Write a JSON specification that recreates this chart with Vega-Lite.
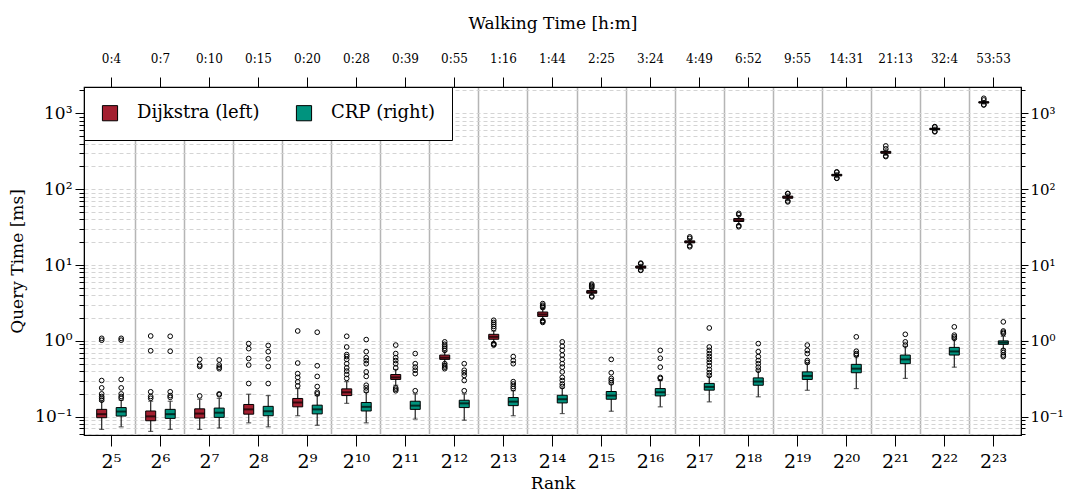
{
  "$schema": "https://vega.github.io/schema/vega-lite/v6.json",
  "width": 937,
  "height": 348,
  "autosize": "none",
  "padding": {"left": 84, "top": 87, "right": 44, "bottom": 62},
  "background": "white",
  "config": {
    "font": "DejaVu Serif",
    "view": {"stroke": "black", "strokeWidth": 1.2},
    "axis": {"domainColor": "black", "tickColor": "black", "labelColor": "black", "titleColor": "black", "titleFontWeight": "normal", "labelFont": "DejaVu Serif", "titleFont": "DejaVu Serif"},
    "legend": {"labelFont": "DejaVu Serif"}
  },
  "datasets": {
    "stats": [
      {"rank": 32, "method": "Dijkstra (left)", "wlo": 0.068, "q1": 0.097, "med": 0.108, "q3": 0.125, "whi": 0.16},
      {"rank": 32, "method": "CRP (right)", "wlo": 0.0735, "q1": 0.102, "med": 0.117, "q3": 0.132, "whi": 0.165},
      {"rank": 64, "method": "Dijkstra (left)", "wlo": 0.064, "q1": 0.0885, "med": 0.101, "q3": 0.119, "whi": 0.16},
      {"rank": 64, "method": "CRP (right)", "wlo": 0.068, "q1": 0.095, "med": 0.108, "q3": 0.125, "whi": 0.16},
      {"rank": 128, "method": "Dijkstra (left)", "wlo": 0.068, "q1": 0.096, "med": 0.11, "q3": 0.127, "whi": 0.17},
      {"rank": 128, "method": "CRP (right)", "wlo": 0.071, "q1": 0.098, "med": 0.113, "q3": 0.13, "whi": 0.175},
      {"rank": 256, "method": "Dijkstra (left)", "wlo": 0.083, "q1": 0.108, "med": 0.125, "q3": 0.145, "whi": 0.198},
      {"rank": 256, "method": "CRP (right)", "wlo": 0.0735, "q1": 0.103, "med": 0.118, "q3": 0.137, "whi": 0.19},
      {"rank": 512, "method": "Dijkstra (left)", "wlo": 0.103, "q1": 0.135, "med": 0.154, "q3": 0.174, "whi": 0.235},
      {"rank": 512, "method": "CRP (right)", "wlo": 0.077, "q1": 0.109, "med": 0.125, "q3": 0.142, "whi": 0.19},
      {"rank": 1024, "method": "Dijkstra (left)", "wlo": 0.15, "q1": 0.19, "med": 0.21, "q3": 0.233, "whi": 0.29},
      {"rank": 1024, "method": "CRP (right)", "wlo": 0.083, "q1": 0.119, "med": 0.135, "q3": 0.154, "whi": 0.21},
      {"rank": 2048, "method": "Dijkstra (left)", "wlo": 0.26, "q1": 0.31, "med": 0.33, "q3": 0.36, "whi": 0.42},
      {"rank": 2048, "method": "CRP (right)", "wlo": 0.093, "q1": 0.125, "med": 0.14, "q3": 0.16, "whi": 0.2},
      {"rank": 4096, "method": "Dijkstra (left)", "wlo": 0.5, "q1": 0.57, "med": 0.6, "q3": 0.65, "whi": 0.73},
      {"rank": 4096, "method": "CRP (right)", "wlo": 0.09, "q1": 0.132, "med": 0.15, "q3": 0.165, "whi": 0.2},
      {"rank": 8192, "method": "Dijkstra (left)", "wlo": 0.95, "q1": 1.05, "med": 1.13, "q3": 1.22, "whi": 1.35},
      {"rank": 8192, "method": "CRP (right)", "wlo": 0.103, "q1": 0.14, "med": 0.158, "q3": 0.179, "whi": 0.22},
      {"rank": 16384, "method": "Dijkstra (left)", "wlo": 1.9, "q1": 2.1, "med": 2.23, "q3": 2.4, "whi": 2.65},
      {"rank": 16384, "method": "CRP (right)", "wlo": 0.11, "q1": 0.152, "med": 0.17, "q3": 0.192, "whi": 0.24},
      {"rank": 32768, "method": "Dijkstra (left)", "wlo": 4.0, "q1": 4.25, "med": 4.4, "q3": 4.6, "whi": 4.9},
      {"rank": 32768, "method": "CRP (right)", "wlo": 0.118, "q1": 0.17, "med": 0.19, "q3": 0.215, "whi": 0.27},
      {"rank": 65536, "method": "Dijkstra (left)", "wlo": 8.7, "q1": 9.1, "med": 9.4, "q3": 9.7, "whi": 10.2},
      {"rank": 65536, "method": "CRP (right)", "wlo": 0.135, "q1": 0.188, "med": 0.21, "q3": 0.235, "whi": 0.3},
      {"rank": 131072, "method": "Dijkstra (left)", "wlo": 18.5, "q1": 19.6, "med": 20.2, "q3": 20.8, "whi": 22},
      {"rank": 131072, "method": "CRP (right)", "wlo": 0.157, "q1": 0.224, "med": 0.247, "q3": 0.275, "whi": 0.34},
      {"rank": 262144, "method": "Dijkstra (left)", "wlo": 34, "q1": 37.5, "med": 39, "q3": 41, "whi": 45},
      {"rank": 262144, "method": "CRP (right)", "wlo": 0.183, "q1": 0.26, "med": 0.291, "q3": 0.325, "whi": 0.4},
      {"rank": 524288, "method": "Dijkstra (left)", "wlo": 71, "q1": 76, "med": 78, "q3": 81, "whi": 86},
      {"rank": 524288, "method": "CRP (right)", "wlo": 0.223, "q1": 0.31, "med": 0.345, "q3": 0.39, "whi": 0.5},
      {"rank": 1048576, "method": "Dijkstra (left)", "wlo": 142, "q1": 150, "med": 153, "q3": 157, "whi": 165},
      {"rank": 1048576, "method": "CRP (right)", "wlo": 0.235, "q1": 0.38, "med": 0.43, "q3": 0.49, "whi": 0.62},
      {"rank": 2097152, "method": "Dijkstra (left)", "wlo": 280, "q1": 298, "med": 305, "q3": 315, "whi": 330},
      {"rank": 2097152, "method": "CRP (right)", "wlo": 0.32, "q1": 0.5, "med": 0.57, "q3": 0.65, "whi": 0.85},
      {"rank": 4194304, "method": "Dijkstra (left)", "wlo": 590, "q1": 610, "med": 620, "q3": 635, "whi": 655},
      {"rank": 4194304, "method": "CRP (right)", "wlo": 0.45, "q1": 0.65, "med": 0.725, "q3": 0.82, "whi": 1.05},
      {"rank": 8388608, "method": "Dijkstra (left)", "wlo": 1330, "q1": 1370, "med": 1397, "q3": 1420, "whi": 1460},
      {"rank": 8388608, "method": "CRP (right)", "wlo": 0.78, "q1": 0.9, "med": 0.95, "q3": 1.0, "whi": 1.15}
    ],
    "outliers": [
      {"rank": 32, "method": "Dijkstra (left)", "v": 0.165}, {"rank": 32, "method": "Dijkstra (left)", "v": 0.175}, {"rank": 32, "method": "Dijkstra (left)", "v": 0.185}, {"rank": 32, "method": "Dijkstra (left)", "v": 0.2}, {"rank": 32, "method": "Dijkstra (left)", "v": 0.24}, {"rank": 32, "method": "Dijkstra (left)", "v": 0.3}, {"rank": 32, "method": "Dijkstra (left)", "v": 1.02}, {"rank": 32, "method": "Dijkstra (left)", "v": 1.08},
      {"rank": 32, "method": "CRP (right)", "v": 0.175}, {"rank": 32, "method": "CRP (right)", "v": 0.185}, {"rank": 32, "method": "CRP (right)", "v": 0.2}, {"rank": 32, "method": "CRP (right)", "v": 0.24}, {"rank": 32, "method": "CRP (right)", "v": 0.31}, {"rank": 32, "method": "CRP (right)", "v": 1.02}, {"rank": 32, "method": "CRP (right)", "v": 1.08},
      {"rank": 64, "method": "Dijkstra (left)", "v": 0.175}, {"rank": 64, "method": "Dijkstra (left)", "v": 0.185}, {"rank": 64, "method": "Dijkstra (left)", "v": 0.213}, {"rank": 64, "method": "Dijkstra (left)", "v": 0.74}, {"rank": 64, "method": "Dijkstra (left)", "v": 1.16},
      {"rank": 64, "method": "CRP (right)", "v": 0.18}, {"rank": 64, "method": "CRP (right)", "v": 0.19}, {"rank": 64, "method": "CRP (right)", "v": 0.213}, {"rank": 64, "method": "CRP (right)", "v": 0.73}, {"rank": 64, "method": "CRP (right)", "v": 1.15},
      {"rank": 128, "method": "Dijkstra (left)", "v": 0.188}, {"rank": 128, "method": "Dijkstra (left)", "v": 0.46}, {"rank": 128, "method": "Dijkstra (left)", "v": 0.48}, {"rank": 128, "method": "Dijkstra (left)", "v": 0.57},
      {"rank": 128, "method": "CRP (right)", "v": 0.195}, {"rank": 128, "method": "CRP (right)", "v": 0.2}, {"rank": 128, "method": "CRP (right)", "v": 0.43}, {"rank": 128, "method": "CRP (right)", "v": 0.45}, {"rank": 128, "method": "CRP (right)", "v": 0.48}, {"rank": 128, "method": "CRP (right)", "v": 0.56},
      {"rank": 256, "method": "Dijkstra (left)", "v": 0.274}, {"rank": 256, "method": "Dijkstra (left)", "v": 0.48}, {"rank": 256, "method": "Dijkstra (left)", "v": 0.585}, {"rank": 256, "method": "Dijkstra (left)", "v": 0.79}, {"rank": 256, "method": "Dijkstra (left)", "v": 0.92},
      {"rank": 256, "method": "CRP (right)", "v": 0.274}, {"rank": 256, "method": "CRP (right)", "v": 0.46}, {"rank": 256, "method": "CRP (right)", "v": 0.58}, {"rank": 256, "method": "CRP (right)", "v": 0.72}, {"rank": 256, "method": "CRP (right)", "v": 0.87},
      {"rank": 512, "method": "Dijkstra (left)", "v": 0.255}, {"rank": 512, "method": "Dijkstra (left)", "v": 0.288}, {"rank": 512, "method": "Dijkstra (left)", "v": 0.33}, {"rank": 512, "method": "Dijkstra (left)", "v": 0.37}, {"rank": 512, "method": "Dijkstra (left)", "v": 0.51}, {"rank": 512, "method": "Dijkstra (left)", "v": 1.35},
      {"rank": 512, "method": "CRP (right)", "v": 0.2}, {"rank": 512, "method": "CRP (right)", "v": 0.21}, {"rank": 512, "method": "CRP (right)", "v": 0.25}, {"rank": 512, "method": "CRP (right)", "v": 0.34}, {"rank": 512, "method": "CRP (right)", "v": 0.47}, {"rank": 512, "method": "CRP (right)", "v": 1.3},
      {"rank": 1024, "method": "Dijkstra (left)", "v": 0.32}, {"rank": 1024, "method": "Dijkstra (left)", "v": 0.36}, {"rank": 1024, "method": "Dijkstra (left)", "v": 0.4}, {"rank": 1024, "method": "Dijkstra (left)", "v": 0.44}, {"rank": 1024, "method": "Dijkstra (left)", "v": 0.5}, {"rank": 1024, "method": "Dijkstra (left)", "v": 0.57}, {"rank": 1024, "method": "Dijkstra (left)", "v": 0.62}, {"rank": 1024, "method": "Dijkstra (left)", "v": 0.66}, {"rank": 1024, "method": "Dijkstra (left)", "v": 0.83}, {"rank": 1024, "method": "Dijkstra (left)", "v": 1.15},
      {"rank": 1024, "method": "CRP (right)", "v": 0.22}, {"rank": 1024, "method": "CRP (right)", "v": 0.24}, {"rank": 1024, "method": "CRP (right)", "v": 0.26}, {"rank": 1024, "method": "CRP (right)", "v": 0.34}, {"rank": 1024, "method": "CRP (right)", "v": 0.39}, {"rank": 1024, "method": "CRP (right)", "v": 0.5}, {"rank": 1024, "method": "CRP (right)", "v": 0.55}, {"rank": 1024, "method": "CRP (right)", "v": 0.6}, {"rank": 1024, "method": "CRP (right)", "v": 0.72}, {"rank": 1024, "method": "CRP (right)", "v": 1.04},
      {"rank": 2048, "method": "Dijkstra (left)", "v": 0.22}, {"rank": 2048, "method": "Dijkstra (left)", "v": 0.23}, {"rank": 2048, "method": "Dijkstra (left)", "v": 0.24}, {"rank": 2048, "method": "Dijkstra (left)", "v": 0.44}, {"rank": 2048, "method": "Dijkstra (left)", "v": 0.5}, {"rank": 2048, "method": "Dijkstra (left)", "v": 0.55}, {"rank": 2048, "method": "Dijkstra (left)", "v": 0.6}, {"rank": 2048, "method": "Dijkstra (left)", "v": 0.68}, {"rank": 2048, "method": "Dijkstra (left)", "v": 0.88},
      {"rank": 2048, "method": "CRP (right)", "v": 0.22}, {"rank": 2048, "method": "CRP (right)", "v": 0.37}, {"rank": 2048, "method": "CRP (right)", "v": 0.41}, {"rank": 2048, "method": "CRP (right)", "v": 0.45}, {"rank": 2048, "method": "CRP (right)", "v": 0.5}, {"rank": 2048, "method": "CRP (right)", "v": 0.68},
      {"rank": 4096, "method": "Dijkstra (left)", "v": 0.43}, {"rank": 4096, "method": "Dijkstra (left)", "v": 0.45}, {"rank": 4096, "method": "Dijkstra (left)", "v": 0.47}, {"rank": 4096, "method": "Dijkstra (left)", "v": 0.5}, {"rank": 4096, "method": "Dijkstra (left)", "v": 0.75}, {"rank": 4096, "method": "Dijkstra (left)", "v": 0.8}, {"rank": 4096, "method": "Dijkstra (left)", "v": 0.85}, {"rank": 4096, "method": "Dijkstra (left)", "v": 0.9}, {"rank": 4096, "method": "Dijkstra (left)", "v": 0.97},
      {"rank": 4096, "method": "CRP (right)", "v": 0.22}, {"rank": 4096, "method": "CRP (right)", "v": 0.3}, {"rank": 4096, "method": "CRP (right)", "v": 0.35}, {"rank": 4096, "method": "CRP (right)", "v": 0.38}, {"rank": 4096, "method": "CRP (right)", "v": 0.41}, {"rank": 4096, "method": "CRP (right)", "v": 0.5},
      {"rank": 8192, "method": "Dijkstra (left)", "v": 0.88}, {"rank": 8192, "method": "Dijkstra (left)", "v": 0.9}, {"rank": 8192, "method": "Dijkstra (left)", "v": 0.92}, {"rank": 8192, "method": "Dijkstra (left)", "v": 1.45}, {"rank": 8192, "method": "Dijkstra (left)", "v": 1.55}, {"rank": 8192, "method": "Dijkstra (left)", "v": 1.65}, {"rank": 8192, "method": "Dijkstra (left)", "v": 1.75}, {"rank": 8192, "method": "Dijkstra (left)", "v": 1.87},
      {"rank": 8192, "method": "CRP (right)", "v": 0.235}, {"rank": 8192, "method": "CRP (right)", "v": 0.25}, {"rank": 8192, "method": "CRP (right)", "v": 0.27}, {"rank": 8192, "method": "CRP (right)", "v": 0.29}, {"rank": 8192, "method": "CRP (right)", "v": 0.5}, {"rank": 8192, "method": "CRP (right)", "v": 0.55}, {"rank": 8192, "method": "CRP (right)", "v": 0.62},
      {"rank": 16384, "method": "Dijkstra (left)", "v": 1.75}, {"rank": 16384, "method": "Dijkstra (left)", "v": 1.8}, {"rank": 16384, "method": "Dijkstra (left)", "v": 1.85}, {"rank": 16384, "method": "Dijkstra (left)", "v": 2.75}, {"rank": 16384, "method": "Dijkstra (left)", "v": 2.85}, {"rank": 16384, "method": "Dijkstra (left)", "v": 2.95}, {"rank": 16384, "method": "Dijkstra (left)", "v": 3.1},
      {"rank": 16384, "method": "CRP (right)", "v": 0.25}, {"rank": 16384, "method": "CRP (right)", "v": 0.27}, {"rank": 16384, "method": "CRP (right)", "v": 0.3}, {"rank": 16384, "method": "CRP (right)", "v": 0.33}, {"rank": 16384, "method": "CRP (right)", "v": 0.39}, {"rank": 16384, "method": "CRP (right)", "v": 0.45}, {"rank": 16384, "method": "CRP (right)", "v": 0.5}, {"rank": 16384, "method": "CRP (right)", "v": 0.57}, {"rank": 16384, "method": "CRP (right)", "v": 0.65}, {"rank": 16384, "method": "CRP (right)", "v": 0.75}, {"rank": 16384, "method": "CRP (right)", "v": 0.85}, {"rank": 16384, "method": "CRP (right)", "v": 0.97},
      {"rank": 32768, "method": "Dijkstra (left)", "v": 3.8}, {"rank": 32768, "method": "Dijkstra (left)", "v": 3.9}, {"rank": 32768, "method": "Dijkstra (left)", "v": 5.0}, {"rank": 32768, "method": "Dijkstra (left)", "v": 5.2}, {"rank": 32768, "method": "Dijkstra (left)", "v": 5.4}, {"rank": 32768, "method": "Dijkstra (left)", "v": 5.6},
      {"rank": 32768, "method": "CRP (right)", "v": 0.28}, {"rank": 32768, "method": "CRP (right)", "v": 0.3}, {"rank": 32768, "method": "CRP (right)", "v": 0.32}, {"rank": 32768, "method": "CRP (right)", "v": 0.38}, {"rank": 32768, "method": "CRP (right)", "v": 0.57},
      {"rank": 65536, "method": "Dijkstra (left)", "v": 8.5}, {"rank": 65536, "method": "Dijkstra (left)", "v": 8.6}, {"rank": 65536, "method": "Dijkstra (left)", "v": 10.4}, {"rank": 65536, "method": "Dijkstra (left)", "v": 10.6},
      {"rank": 65536, "method": "CRP (right)", "v": 0.32}, {"rank": 65536, "method": "CRP (right)", "v": 0.33}, {"rank": 65536, "method": "CRP (right)", "v": 0.45}, {"rank": 65536, "method": "CRP (right)", "v": 0.59}, {"rank": 65536, "method": "CRP (right)", "v": 0.75},
      {"rank": 131072, "method": "Dijkstra (left)", "v": 17.4}, {"rank": 131072, "method": "Dijkstra (left)", "v": 18}, {"rank": 131072, "method": "Dijkstra (left)", "v": 22.5}, {"rank": 131072, "method": "Dijkstra (left)", "v": 23.5},
      {"rank": 131072, "method": "CRP (right)", "v": 0.35}, {"rank": 131072, "method": "CRP (right)", "v": 0.38}, {"rank": 131072, "method": "CRP (right)", "v": 0.42}, {"rank": 131072, "method": "CRP (right)", "v": 0.47}, {"rank": 131072, "method": "CRP (right)", "v": 0.52}, {"rank": 131072, "method": "CRP (right)", "v": 0.57}, {"rank": 131072, "method": "CRP (right)", "v": 0.62}, {"rank": 131072, "method": "CRP (right)", "v": 0.68}, {"rank": 131072, "method": "CRP (right)", "v": 0.75}, {"rank": 131072, "method": "CRP (right)", "v": 0.83}, {"rank": 131072, "method": "CRP (right)", "v": 1.48},
      {"rank": 262144, "method": "Dijkstra (left)", "v": 32}, {"rank": 262144, "method": "Dijkstra (left)", "v": 33}, {"rank": 262144, "method": "Dijkstra (left)", "v": 46}, {"rank": 262144, "method": "Dijkstra (left)", "v": 48},
      {"rank": 262144, "method": "CRP (right)", "v": 0.41}, {"rank": 262144, "method": "CRP (right)", "v": 0.45}, {"rank": 262144, "method": "CRP (right)", "v": 0.5}, {"rank": 262144, "method": "CRP (right)", "v": 0.55}, {"rank": 262144, "method": "CRP (right)", "v": 0.62}, {"rank": 262144, "method": "CRP (right)", "v": 0.72}, {"rank": 262144, "method": "CRP (right)", "v": 0.92},
      {"rank": 524288, "method": "Dijkstra (left)", "v": 68}, {"rank": 524288, "method": "Dijkstra (left)", "v": 70}, {"rank": 524288, "method": "Dijkstra (left)", "v": 87}, {"rank": 524288, "method": "Dijkstra (left)", "v": 88},
      {"rank": 524288, "method": "CRP (right)", "v": 0.52}, {"rank": 524288, "method": "CRP (right)", "v": 0.55}, {"rank": 524288, "method": "CRP (right)", "v": 0.68}, {"rank": 524288, "method": "CRP (right)", "v": 0.75}, {"rank": 524288, "method": "CRP (right)", "v": 0.88},
      {"rank": 1048576, "method": "Dijkstra (left)", "v": 139}, {"rank": 1048576, "method": "Dijkstra (left)", "v": 140}, {"rank": 1048576, "method": "Dijkstra (left)", "v": 167}, {"rank": 1048576, "method": "Dijkstra (left)", "v": 169},
      {"rank": 1048576, "method": "CRP (right)", "v": 0.65}, {"rank": 1048576, "method": "CRP (right)", "v": 0.68}, {"rank": 1048576, "method": "CRP (right)", "v": 0.73}, {"rank": 1048576, "method": "CRP (right)", "v": 1.13},
      {"rank": 2097152, "method": "Dijkstra (left)", "v": 269}, {"rank": 2097152, "method": "Dijkstra (left)", "v": 275}, {"rank": 2097152, "method": "Dijkstra (left)", "v": 340}, {"rank": 2097152, "method": "Dijkstra (left)", "v": 372},
      {"rank": 2097152, "method": "CRP (right)", "v": 0.88}, {"rank": 2097152, "method": "CRP (right)", "v": 0.97}, {"rank": 2097152, "method": "CRP (right)", "v": 1.22},
      {"rank": 4194304, "method": "Dijkstra (left)", "v": 570}, {"rank": 4194304, "method": "Dijkstra (left)", "v": 580}, {"rank": 4194304, "method": "Dijkstra (left)", "v": 660}, {"rank": 4194304, "method": "Dijkstra (left)", "v": 668},
      {"rank": 4194304, "method": "CRP (right)", "v": 1.08}, {"rank": 4194304, "method": "CRP (right)", "v": 1.13}, {"rank": 4194304, "method": "CRP (right)", "v": 1.19}, {"rank": 4194304, "method": "CRP (right)", "v": 1.53},
      {"rank": 8388608, "method": "Dijkstra (left)", "v": 1290}, {"rank": 8388608, "method": "Dijkstra (left)", "v": 1300}, {"rank": 8388608, "method": "Dijkstra (left)", "v": 1500}, {"rank": 8388608, "method": "Dijkstra (left)", "v": 1578},
      {"rank": 8388608, "method": "CRP (right)", "v": 0.62}, {"rank": 8388608, "method": "CRP (right)", "v": 0.65}, {"rank": 8388608, "method": "CRP (right)", "v": 0.7}, {"rank": 8388608, "method": "CRP (right)", "v": 0.75}, {"rank": 8388608, "method": "CRP (right)", "v": 1.25}, {"rank": 8388608, "method": "CRP (right)", "v": 1.3}, {"rank": 8388608, "method": "CRP (right)", "v": 1.35}, {"rank": 8388608, "method": "CRP (right)", "v": 1.78}
    ]
  },
  "resolve": {"axis": {"x": "independent", "y": "independent"}},
  "layer": [
    {
      "data": {"name": "stats"},
      "mark": {"type": "rule", "color": "#222", "strokeWidth": 1.2},
      "encoding": {
        "x": {"field": "rank", "type": "ordinal", "scale": {"paddingInner": 0, "paddingOuter": 0.06},
          "axis": {"bandPosition": 0, "values": [64, 128, 256, 512, 1024, 2048, 4096, 8192, 16384, 32768, 65536, 131072, 262144, 524288, 1048576, 2097152, 4194304, 8388608], "labels": false, "ticks": false, "domain": false, "grid": true, "gridColor": "#b5b5b5", "gridWidth": 1.5, "title": null}},
        "xOffset": {"field": "method", "type": "nominal", "scale": {"domain": ["Dijkstra (left)", "CRP (right)"], "paddingOuter": 0.256, "paddingInner": 0}},
        "y": {"field": "wlo", "type": "quantitative",
          "scale": {"type": "log", "domain": [0.0574, 2224], "nice": false},
          "axis": {"orient": "left", "values": [0.06, 0.07, 0.08, 0.09, 0.1, 0.2, 0.3, 0.4, 0.5, 0.6, 0.7, 0.8, 0.9, 1, 2, 3, 4, 5, 6, 7, 8, 9, 10, 20, 30, 40, 50, 60, 70, 80, 90, 100, 200, 300, 400, 500, 600, 700, 800, 900, 1000, 2000],
            "labelExpr": "abs(log(datum.value)/LN10 - round(log(datum.value)/LN10)) < 0.001 ? '10' + ['⁻¹','⁰','¹','²','³'][round(log(datum.value)/LN10) + 1] : ''",
            "tickSize": {"condition": {"test": "abs(log(datum.value)/LN10 - round(log(datum.value)/LN10)) < 0.001", "value": 9}, "value": 5},
            "labelFontSize": 17, "labelPadding": 3, "grid": true, "gridColor": "#d4d4d4", "gridDash": [4, 3], "gridWidth": 1,
            "title": "Query Time [ms]", "titleFontSize": 17, "titlePadding": 8}},
        "y2": {"field": "whi"}
      }
    },
    {
      "data": {"name": "stats"},
      "mark": {"type": "tick", "color": "#222", "size": 5, "thickness": 1.2},
      "encoding": {
        "x": {"field": "rank", "type": "ordinal", "axis": null},
        "xOffset": {"field": "method", "type": "nominal"},
        "y": {"field": "wlo", "type": "quantitative", "axis": null}
      }
    },
    {
      "data": {"name": "stats"},
      "mark": {"type": "tick", "color": "#222", "size": 5, "thickness": 1.2},
      "encoding": {
        "x": {"field": "rank", "type": "ordinal", "axis": null},
        "xOffset": {"field": "method", "type": "nominal"},
        "y": {"field": "whi", "type": "quantitative", "axis": null}
      }
    },
    {
      "data": {"name": "stats"},
      "mark": {"type": "bar", "size": 10, "stroke": "black", "strokeWidth": 1},
      "encoding": {
        "x": {"field": "rank", "type": "ordinal",
          "axis": {"orient": "bottom", "labelExpr": "'2' + ['⁵','⁶','⁷','⁸','⁹','¹⁰','¹¹','¹²','¹³','¹⁴','¹⁵','¹⁶','¹⁷','¹⁸','¹⁹','²⁰','²¹','²²','²³'][round(log(datum.value)/LN2) - 5]",
            "labelAngle": 0, "labelFontSize": 19, "tickSize": 11, "labelPadding": 6, "grid": false, "title": "Rank", "titleFontSize": 17, "titlePadding": 4}},
        "xOffset": {"field": "method", "type": "nominal"},
        "y": {"field": "q1", "type": "quantitative",
          "axis": {"orient": "right", "values": [0.06, 0.07, 0.08, 0.09, 0.1, 0.2, 0.3, 0.4, 0.5, 0.6, 0.7, 0.8, 0.9, 1, 2, 3, 4, 5, 6, 7, 8, 9, 10, 20, 30, 40, 50, 60, 70, 80, 90, 100, 200, 300, 400, 500, 600, 700, 800, 900, 1000, 2000],
            "labelExpr": "abs(log(datum.value)/LN10 - round(log(datum.value)/LN10)) < 0.001 ? '10' + ['⁻¹','⁰','¹','²','³'][round(log(datum.value)/LN10) + 1] : ''",
            "tickSize": {"condition": {"test": "abs(log(datum.value)/LN10 - round(log(datum.value)/LN10)) < 0.001", "value": 7}, "value": 4},
            "labelFontSize": 15, "labelPadding": 2, "grid": false, "title": null}},
        "y2": {"field": "q3"},
        "fill": {"field": "method", "type": "nominal",
          "scale": {"domain": ["Dijkstra (left)", "CRP (right)"], "range": ["#a31f30", "#00937e"]},
          "legend": {"orient": "top-left", "direction": "horizontal", "title": null, "offset": 0, "padding": 17,
            "fillColor": "white", "strokeColor": "black", "labelFontSize": 18, "labelColor": "black",
            "symbolType": "square", "symbolSize": 230, "symbolStrokeColor": "black", "symbolStrokeWidth": 1, "symbolOpacity": 1,
            "columnPadding": 34, "labelOffset": 18}}
      }
    },
    {
      "data": {"name": "stats"},
      "mark": {"type": "tick", "color": "black", "size": 10, "thickness": 2},
      "encoding": {
        "x": {"field": "rank", "type": "ordinal",
          "axis": {"orient": "top", "labelExpr": "['0:4','0:7','0:10','0:15','0:20','0:28','0:39','0:55','1:16','1:44','2:25','3:24','4:49','6:52','9:55','14:31','21:13','32:4','53:53'][round(log(datum.value)/LN2) - 5]",
            "labelAngle": 0, "labelFontSize": 12, "tickSize": 10, "labelPadding": 12, "grid": false, "title": "Walking Time [h:m]", "titleFontSize": 17, "titlePadding": 20}},
        "xOffset": {"field": "method", "type": "nominal"},
        "y": {"field": "med", "type": "quantitative", "axis": null}
      }
    },
    {
      "data": {"name": "outliers"},
      "mark": {"type": "point", "filled": false, "stroke": "black", "strokeWidth": 1, "size": 22, "opacity": 1},
      "encoding": {
        "x": {"field": "rank", "type": "ordinal", "axis": null},
        "xOffset": {"field": "method", "type": "nominal"},
        "y": {"field": "v", "type": "quantitative", "axis": null}
      }
    }
  ]
}
